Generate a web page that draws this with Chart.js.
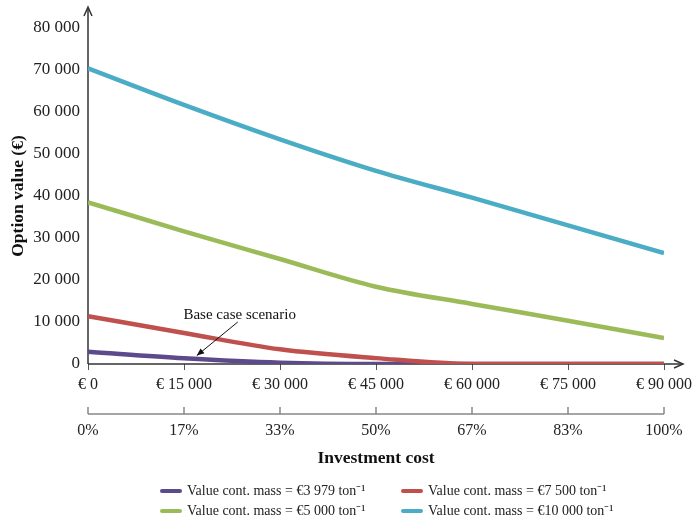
<!DOCTYPE html>
<html>
<head>
<meta charset="utf-8">
<title>Option value vs investment cost</title>
<script src="https://cdn.jsdelivr.net/npm/chart.js@4.4.0/dist/chart.umd.min.js"></script>
<style>
  html, body { margin: 0; padding: 0; background: #fff; }
  #wrap { width: 694px; height: 520px; }
</style>
</head>
<body>
<div id="wrap"><canvas id="myChart" width="694" height="520"></canvas></div>
<script>
// investment cost (€) and the matching share of the maximum
var investCost = [0, 15000, 30000, 45000, 60000, 75000, 90000];
var costShare = ['0%', '17%', '33%', '50%', '67%', '83%', '100%'];

// option value (€) for each value of the contaminated mass
var value3979 = [2900, 1350, 300, 0, 0, 0, 0];
var value7500 = [11400, 7400, 3500, 1400, 0, 0, 0];
var value5000 = [38500, 31600, 25000, 18400, 14300, 10300, 6200];
var value10000 = [70400, 61700, 53500, 46000, 39600, 33000, 26400];

var serif = '"Liberation Serif", "Times New Roman", serif';

function spaced(v) {
  return String(v).replace(/\B(?=(\d{3})+(?!\d))/g, ' ');
}

function pts(ys) {
  return ys.map(function (y, i) { return { x: investCost[i], y: y }; });
}

function series(label, ys, color, order) {
  return {
    label: label,
    data: pts(ys),
    borderColor: color,
    backgroundColor: color,
    borderWidth: 4.5,
    pointRadius: 0,
    cubicInterpolationMode: 'monotone',
    order: order
  };
}

// axes with arrow heads, plus the second (percentage) axis line
var axesPlugin = {
  id: 'axesArrows',
  beforeDatasetsDraw: function (chart) {
    var ctx = chart.ctx, a = chart.chartArea;
    var x0 = a.left, y0 = chart.scales.y.getPixelForValue(0);
    ctx.save();
    ctx.strokeStyle = '#333';
    ctx.lineWidth = 1.5;
    ctx.beginPath();
    ctx.moveTo(x0, y0);
    ctx.lineTo(x0, 8);
    ctx.moveTo(x0, y0);
    ctx.lineTo(a.right + 18, y0);
    ctx.stroke();
    // arrow heads
    ctx.beginPath();
    ctx.moveTo(x0 - 4, 16); ctx.lineTo(x0, 7); ctx.lineTo(x0 + 4, 16);
    ctx.moveTo(a.right + 10, y0 - 4); ctx.lineTo(a.right + 19, y0); ctx.lineTo(a.right + 10, y0 + 4);
    ctx.stroke();

    // percentage axis
    var x2 = chart.scales.x2;
    var ly = x2.top + 21;
    ctx.strokeStyle = '#888';
    ctx.lineWidth = 1.5;
    ctx.beginPath();
    ctx.moveTo(x2.left, ly);
    ctx.lineTo(x2.right, ly);
    investCost.forEach(function (c) {
      var px = x2.getPixelForValue(c);
      ctx.moveTo(px, ly);
      ctx.lineTo(px, ly - 7);
    });
    ctx.stroke();
    ctx.restore();
  }
};

// "Base case scenario" callout
var noteText = 'Base case scenario';
var notePos = { x: 23700, y: 11700 };
var noteTail = { x: 23400, y: 10000 };
var noteHead = { x: 17000, y: 2000 };

var notePlugin = {
  id: 'note',
  afterDatasetsDraw: function (chart) {
    var ctx = chart.ctx, sx = chart.scales.x, sy = chart.scales.y;
    ctx.save();
    ctx.font = '15px ' + serif;
    ctx.fillStyle = '#111';
    ctx.textAlign = 'center';
    ctx.textBaseline = 'middle';
    ctx.fillText(noteText, sx.getPixelForValue(notePos.x), sy.getPixelForValue(notePos.y));
    var tx = sx.getPixelForValue(noteTail.x), ty = sy.getPixelForValue(noteTail.y);
    var hx = sx.getPixelForValue(noteHead.x), hy = sy.getPixelForValue(noteHead.y);
    ctx.strokeStyle = '#111';
    ctx.fillStyle = '#111';
    ctx.lineWidth = 1;
    ctx.beginPath();
    ctx.moveTo(tx, ty);
    ctx.lineTo(hx, hy);
    ctx.stroke();
    var ang = Math.atan2(hy - ty, hx - tx);
    ctx.beginPath();
    ctx.moveTo(hx, hy);
    ctx.lineTo(hx - 8 * Math.cos(ang - 0.4), hy - 8 * Math.sin(ang - 0.4));
    ctx.lineTo(hx - 8 * Math.cos(ang + 0.4), hy - 8 * Math.sin(ang + 0.4));
    ctx.closePath();
    ctx.fill();
    ctx.restore();
  }
};

// two-column legend under the axis title
var legendPlugin = {
  id: 'twoColLegend',
  afterDraw: function (chart) {
    var ctx = chart.ctx;
    var cols = [160, 401], rows = [491, 511];
    ctx.save();
    ctx.font = '14px ' + serif;
    ctx.textBaseline = 'middle';
    ctx.textAlign = 'left';
    chart.data.datasets.forEach(function (ds, i) {
      var lx = cols[i % 2], ly = rows[Math.floor(i / 2)];
      ctx.strokeStyle = ds.borderColor;
      ctx.lineWidth = 4;
      ctx.lineCap = 'round';
      ctx.beginPath();
      ctx.moveTo(lx + 2, ly);
      ctx.lineTo(lx + 20, ly);
      ctx.stroke();
      ctx.fillStyle = '#222';
      ctx.fillText(ds.label, lx + 27, ly);
    });
    ctx.restore();
  }
};

var ctx = document.getElementById('myChart').getContext('2d');
var myChart = new Chart(ctx, {
  type: 'line',
  data: {
    datasets: [
      series('Value cont. mass = €3 979 ton⁻¹', value3979, '#5d4a8c', 1),
      series('Value cont. mass = €7 500 ton⁻¹', value7500, '#c0504d', 0),
      series('Value cont. mass = €5 000 ton⁻¹', value5000, '#9bbb59', 2),
      series('Value cont. mass = €10 000 ton⁻¹', value10000, '#4bacc6', 3)
    ]
  },
  options: {
    responsive: false,
    animation: false,
    layout: { padding: { top: 28, right: 30, bottom: 51, left: 0 } },
    plugins: {
      legend: { display: false },
      tooltip: { enabled: false }
    },
    scales: {
      x: {
        type: 'linear',
        position: 'bottom',
        min: 0,
        max: 90000,
        weight: 0,
        grid: { display: true, drawOnChartArea: false, drawTicks: true, tickLength: 6, color: '#555' },
        border: { display: false },
        ticks: {
          stepSize: 15000,
          autoSkip: false,
          maxRotation: 0,
          padding: 5,
          color: '#222',
          font: { family: serif, size: 16 },
          callback: function (v) { return '€ ' + spaced(v); }
        },
        afterFit: function (s) { s.paddingLeft = 0; s.paddingRight = 0; s.height = 29; }
      },
      x2: {
        type: 'linear',
        position: 'bottom',
        min: 0,
        max: 90000,
        weight: 1,
        grid: { display: false, drawTicks: false },
        border: { display: false },
        ticks: {
          stepSize: 15000,
          autoSkip: false,
          maxRotation: 0,
          padding: 28,
          color: '#222',
          font: { family: serif, size: 16 },
          callback: function (v, i) { return costShare[i]; }
        },
        title: {
          display: true,
          text: 'Investment cost',
          color: '#111',
          font: { family: serif, size: 17.5, weight: 'bold' },
          padding: { top: 4, bottom: 0 }
        },
        afterFit: function (s) { s.paddingLeft = 0; s.paddingRight = 0; s.height = 76; }
      },
      y: {
        min: 0,
        max: 80000,
        grid: { display: false, drawTicks: false },
        border: { display: false },
        ticks: {
          stepSize: 10000,
          padding: 8,
          color: '#222',
          font: { family: serif, size: 17 },
          callback: function (v) { return spaced(v); }
        },
        title: {
          display: true,
          text: 'Option value (€)',
          color: '#111',
          font: { family: serif, size: 17.5, weight: 'bold' },
          padding: { top: 8, bottom: 0 }
        },
        afterFit: function (s) { s.width = 88; }
      }
    }
  },
  plugins: [axesPlugin, notePlugin, legendPlugin]
});
</script>
</body>
</html>
